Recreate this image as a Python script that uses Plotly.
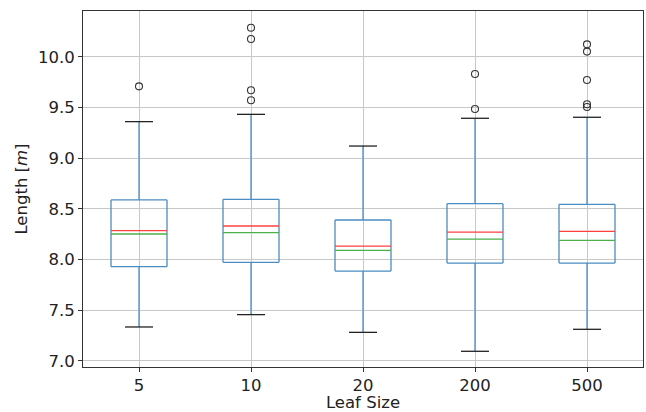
import plotly.graph_objects as go

categories = ["5", "10", "20", "200", "500"]
q1 = [7.93, 7.973, 7.887, 7.966, 7.966]
q3 = [8.589, 8.595, 8.391, 8.552, 8.546]
medians = [8.253, 8.266, 8.092, 8.203, 8.19]
means = [8.286, 8.332, 8.134, 8.272, 8.279]
lower_whisker = [7.335, 7.457, 7.282, 7.095, 7.312]
upper_whisker = [9.362, 9.434, 9.121, 9.395, 9.405]
outliers = [
    [9.71],
    [10.289, 10.178, 9.671, 9.573],
    [],
    [9.832, 9.487],
    [10.125, 10.053, 9.773, 9.533, 9.506],
]

BOX_HALF = 0.25
CAP_HALF = 0.125

def seg_lines(segs):
    xs, ys = [], []
    for (x0, y0, x1, y1) in segs:
        xs += [x0, x1, None]
        ys += [y0, y1, None]
    return xs, ys

box_segs, whisk_segs, cap_segs, med_segs, mean_segs = [], [], [], [], []
for i in range(len(categories)):
    l, r = i - BOX_HALF, i + BOX_HALF
    box_segs += [(l, q1[i], r, q1[i]), (r, q1[i], r, q3[i]), (r, q3[i], l, q3[i]), (l, q3[i], l, q1[i])]
    whisk_segs += [(i, q1[i], i, lower_whisker[i]), (i, q3[i], i, upper_whisker[i])]
    cap_segs += [(i - CAP_HALF, lower_whisker[i], i + CAP_HALF, lower_whisker[i]),
                 (i - CAP_HALF, upper_whisker[i], i + CAP_HALF, upper_whisker[i])]
    med_segs.append((l, medians[i], r, medians[i]))
    mean_segs.append((l, means[i], r, means[i]))

fig = go.Figure()
for segs, color in [(whisk_segs, "#4a8cc4"), (box_segs, "#4a8cc4"), (cap_segs, "#222"),
                    (med_segs, "#4cb04c"), (mean_segs, "#ff4040")]:
    xs, ys = seg_lines(segs)
    fig.add_trace(go.Scatter(x=xs, y=ys, mode="lines", line=dict(color=color, width=1.3),
                             hoverinfo="skip", showlegend=False))

ox, oy = [], []
for i, vals in enumerate(outliers):
    for v in vals:
        ox.append(i)
        oy.append(v)
fig.add_trace(go.Scatter(x=ox, y=oy, mode="markers", showlegend=False,
                         marker=dict(symbol="circle-open", size=7, color="#333",
                                     line=dict(width=1.1, color="#333"))))

tfont = dict(family="DejaVu Sans", size=16.5, color="#222")
fig.update_layout(
    width=646, height=412,
    margin=dict(l=83, r=3, t=11, b=45),
    paper_bgcolor="white", plot_bgcolor="white",
    font=tfont,
    xaxis=dict(range=[-0.5, 4.5], tickvals=list(range(len(categories))), ticktext=categories,
               showgrid=True, gridcolor="#c8c8c8", gridwidth=1, zeroline=False,
               showline=True, linecolor="#333", linewidth=1, mirror=True,
               ticks="outside", ticklen=4, tickcolor="#333", tickfont=tfont,
               ticklabelstandoff=-1,
               title=dict(text="Leaf Size", font=tfont, standoff=3)),
    yaxis=dict(range=[6.94, 10.454], tickvals=[7.0, 7.5, 8.0, 8.5, 9.0, 9.5, 10.0],
               tickformat=".1f",
               showgrid=True, gridcolor="#c8c8c8", gridwidth=1, zeroline=False,
               showline=True, linecolor="#333", linewidth=1, mirror=True,
               ticks="outside", ticklen=4, tickcolor="#333", tickfont=tfont,
               title=dict(text="Length [<i>m</i>]", font=tfont, standoff=6)),
)

fig.write_html("out.html")
